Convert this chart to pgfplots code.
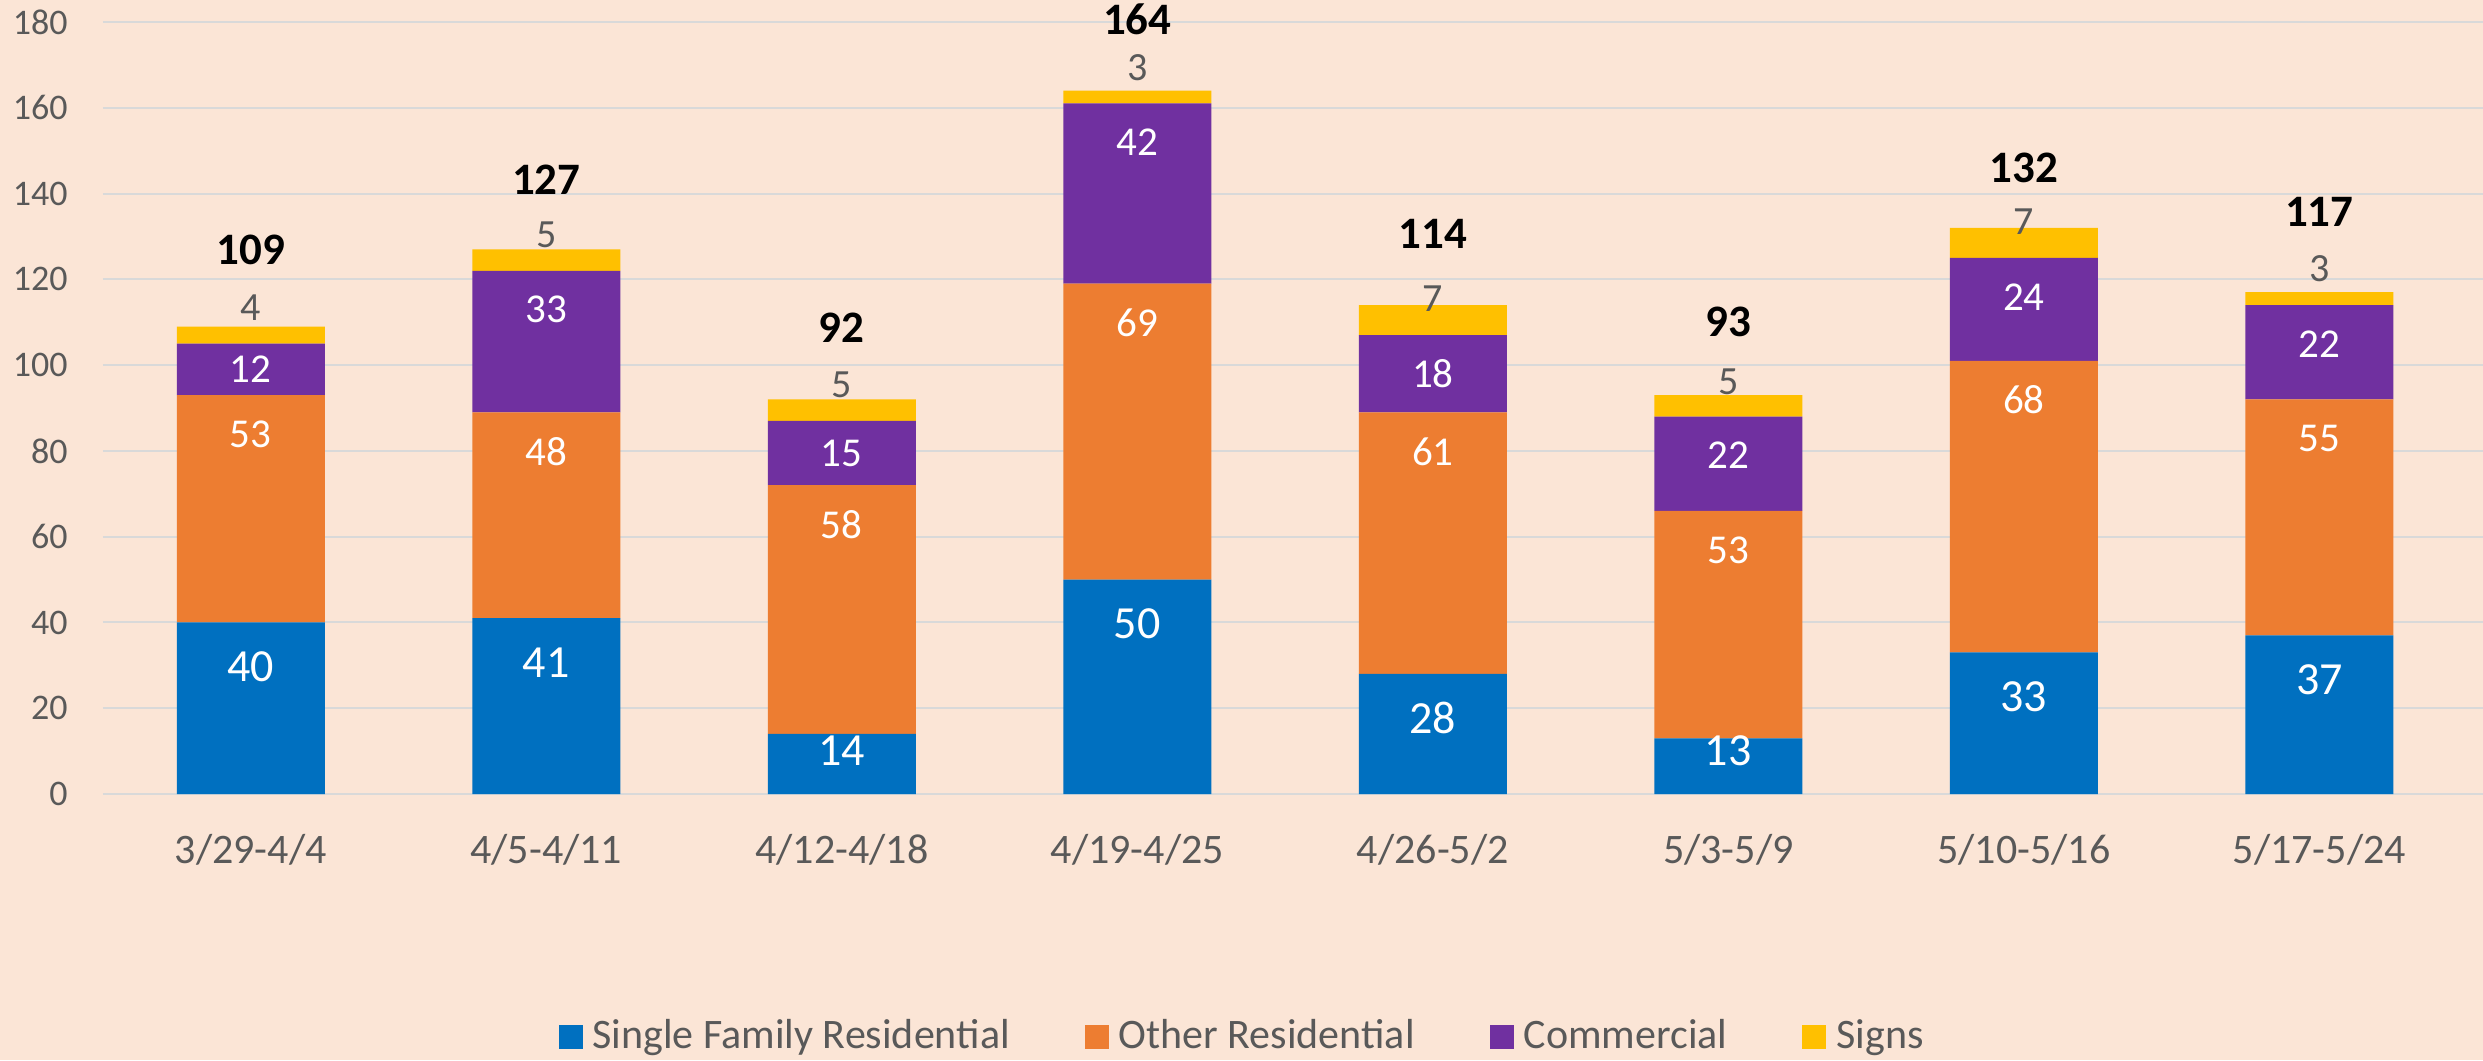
\documentclass[border=0pt]{standalone}
\usepackage{fontspec}
\setmainfont{Carlito}
\usepackage{pgfplots}
\usepackage{pgfplotstable}
\pgfplotsset{compat=1.18}
\definecolor{bg}{HTML}{FBE5D6}
\definecolor{sfrc}{HTML}{0070C0}
\definecolor{osrc}{HTML}{ED7D31}
\definecolor{comc}{HTML}{7030A0}
\definecolor{sigc}{HTML}{FFC000}
\definecolor{gridc}{HTML}{D9D9D9}
\definecolor{txt}{HTML}{595959}

\pgfplotstableread{
x sfr osr com sig tot ysfr yosr ycom ysig ytot
0 40 53 12 4 109 29.7 83.9 99.0 113.3 126.8
1 41 48 33 5 127 30.7 79.9 112.9 130.3 143.2
2 14 58 15 5 92 10.0 62.9 79.5 95.4 108.7
3 50 69 42 3 164 39.7 109.9 151.9 169.3 180.7
4 28 61 18 7 114 17.7 79.9 97.9 115.6 130.6
5 13 53 22 5 93 10.0 56.9 78.9 96.1 110.0
6 33 68 24 7 132 22.7 91.9 115.9 133.4 146.0
7 37 55 22 3 117 26.7 82.9 104.9 122.6 135.7
}\datatable

\begin{document}
\begin{tikzpicture}
\path[use as bounding box, fill=bg] (0,0) rectangle (993.2pt,424pt);
\begin{axis}[
  at={(41.2pt,106.4pt)}, anchor=south west,
  scale only axis, width=952pt, height=308.8pt,
  xmin=-0.5, xmax=7.554, ymin=0, ymax=180,
  enlarge x limits=false, enlarge y limits=false,
  ybar stacked, bar width=59.2pt,
  ytick={0,20,...,180},
  xtick={0,...,7},
  xticklabels={3/29-4/4,4/5-4/11,4/12-4/18,4/19-4/25,4/26-5/2,5/3-5/9,5/10-5/16,5/17-5/24},
  ymajorgrids, xmajorgrids=false,
  grid style={draw=gridc, line width=0.8pt},
  axis line style={draw=none},
  major tick length=0pt, tick style={draw=none},
  /pgf/number format/assume math mode=true,
  yticklabel style={font=\fontsize{14.4}{16}\selectfont, text=txt, anchor=east, inner sep=0pt, xshift=-14pt},
  xticklabel style={font=\fontsize{16.8}{19}\selectfont, text=txt, anchor=base, inner sep=0pt, yshift=-27.6pt},
  legend style={at={(0.4782,-0.3135)}, anchor=center, draw=none, fill=none,
    legend columns=-1, font=\fontsize{16.8}{19}\selectfont, text=txt,
    nodes={inner sep=0pt}, cells={anchor=base west},
    /tikz/every odd column/.append style={column sep=4pt},
    /tikz/every even column/.append style={column sep=30pt}},
  legend image code/.code={\fill[#1] (0pt,0pt) rectangle (9.6pt,9.6pt);},
]
\addplot[fill=sfrc, draw=none, legend image code/.code={\fill[sfrc] (0pt,0pt) rectangle (9.6pt,9.6pt);}] table[x=x,y=sfr]{\datatable};
\addlegendentry{Single Family Residential}
\addplot[fill=osrc, draw=none, legend image code/.code={\fill[osrc] (0pt,0pt) rectangle (9.6pt,9.6pt);}] table[x=x,y=osr]{\datatable};
\addlegendentry{Other Residential}
\addplot[fill=comc, draw=none, legend image code/.code={\fill[comc] (0pt,0pt) rectangle (9.6pt,9.6pt);}] table[x=x,y=com]{\datatable};
\addlegendentry{Commercial}
\addplot[fill=sigc, draw=none, legend image code/.code={\fill[sigc] (0pt,0pt) rectangle (9.6pt,9.6pt);}] table[x=x,y=sig]{\datatable};
\addlegendentry{Signs}
\end{axis}
\begin{axis}[
  at={(41.2pt,106.4pt)}, anchor=south west,
  scale only axis, width=952pt, height=308.8pt,
  xmin=-0.5, xmax=7.554, ymin=0, ymax=180,
  hide axis, clip=false,
  every node near coord/.append style={anchor=center, inner sep=0pt},
]
\addplot[only marks, mark=*, mark size=0pt, mark options={draw=none,fill=none},
  point meta=explicit symbolic, nodes near coords,
  every node near coord/.append style={text=white, font=\fontsize{18.4}{20}\selectfont, anchor=center}]
  table[x=x,y=ysfr,meta=sfr]{\datatable};
\addplot[only marks, mark=*, mark size=0pt, mark options={draw=none,fill=none},
  point meta=explicit symbolic, nodes near coords,
  every node near coord/.append style={text=white, font=\fontsize{16.4}{18}\selectfont, anchor=center}]
  table[x=x,y=yosr,meta=osr]{\datatable};
\addplot[only marks, mark=*, mark size=0pt, mark options={draw=none,fill=none},
  point meta=explicit symbolic, nodes near coords,
  every node near coord/.append style={text=white, font=\fontsize{16.4}{18}\selectfont, anchor=center}]
  table[x=x,y=ycom,meta=com]{\datatable};
\addplot[only marks, mark=*, mark size=0pt, mark options={draw=none,fill=none},
  point meta=explicit symbolic, nodes near coords,
  every node near coord/.append style={text=txt, font=\fontsize{16}{18}\selectfont, anchor=center}]
  table[x=x,y=ysig,meta=sig]{\datatable};
\addplot[only marks, mark=*, mark size=0pt, mark options={draw=none,fill=none},
  point meta=explicit symbolic, nodes near coords,
  every node near coord/.append style={text=black, font=\fontsize{18}{20}\selectfont\bfseries, anchor=center}]
  table[x=x,y=ytot,meta=tot]{\datatable};
\end{axis}
\end{tikzpicture}
\end{document}
